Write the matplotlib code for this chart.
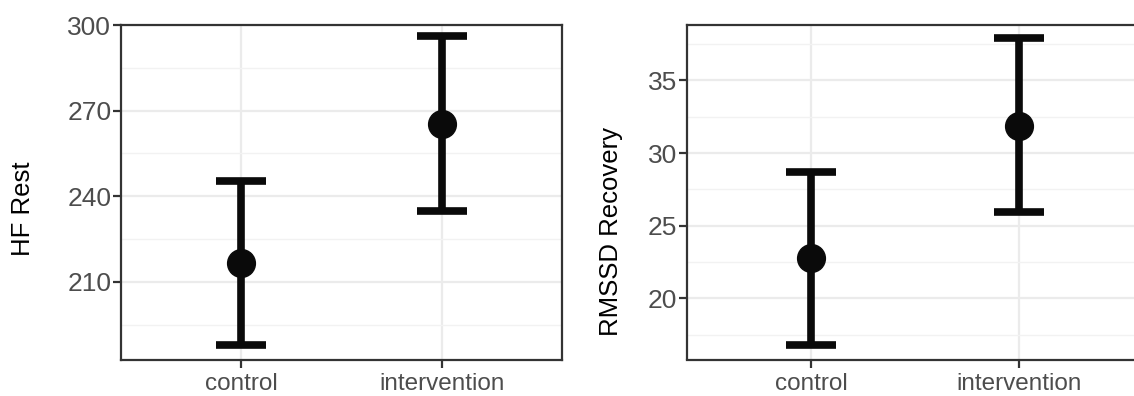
import matplotlib
matplotlib.use("Agg")
import matplotlib.pyplot as plt
from matplotlib.ticker import MultipleLocator

# ---- data ----
groups = ["control", "intervention"]
hf_mean = [216.7, 265.4]
hf_low = [187.8, 234.7]
hf_high = [245.3, 296.1]
rmssd_mean = [22.75, 31.9]
rmssd_low = [16.77, 25.94]
rmssd_high = [28.67, 37.9]
hf_ticks = [210, 240, 270, 300]
rmssd_ticks = [20, 25, 30, 35]

plt.rcParams['font.family'] = ['Liberation Sans', 'DejaVu Sans']

W, H = 1134, 396
fig = plt.figure(figsize=(W / 100, H / 100), dpi=100)
fig.patch.set_facecolor("white")


def px_axes(x0, x1, y0, y1):
    return fig.add_axes([x0 / W, 1 - y1 / H, (x1 - x0) / W, (y1 - y0) / H])


def style(ax, ylabel, ticks, ylim, minor_step, label_xy):
    ax.set_xlim(0.4, 2.6)
    ax.set_ylim(*ylim)
    ax.set_xticks([1, 2])
    ax.set_xticklabels(groups)
    ax.set_yticks(ticks)
    ax.yaxis.set_minor_locator(MultipleLocator(minor_step))
    ax.grid(True, which="major", color="#EBEBEB", linewidth=1.6, zorder=0)
    ax.grid(True, which="minor", axis="y", color="#F2F2F2", linewidth=1.0, zorder=0)
    ax.set_axisbelow(True)
    for s in ax.spines.values():
        s.set_color("#333333")
        s.set_linewidth(1.6)
    ax.tick_params(axis="both", which="major", length=6, width=1.6, color="#333333",
                   labelcolor="#4D4D4D")
    ax.tick_params(axis="y", labelsize=19, pad=1)
    ax.tick_params(axis="x", labelsize=17.5, pad=4)
    ax.tick_params(axis="both", which="minor", length=0)
    ax.set_ylabel(ylabel, fontsize=18.5, color="black")
    ax.yaxis.set_label_coords(*label_xy)


def draw(ax, mean, low, high):
    x = [1, 2]
    yerr = [[m - l for m, l in zip(mean, low)], [h - m for h, m in zip(high, mean)]]
    ax.errorbar(x, mean, yerr=yerr, fmt="o", color="#0A0A0A", markersize=20,
                elinewidth=5.5, capsize=18, capthick=5.5, zorder=3)


ax1 = px_axes(121, 562, 24.5, 359.5)
style(ax1, "HF Rest", hf_ticks, (182.8, 300.2), 15,
      ((35 - 121) / 441, (359.5 - 209) / 335))
draw(ax1, hf_mean, hf_low, hf_high)

ax2 = px_axes(687, 1143, 24.5, 359.5)
style(ax2, "RMSSD Recovery", rmssd_ticks, (15.8, 38.85), 2.5,
      ((623 - 687) / 456, (359.5 - 231) / 335))
draw(ax2, rmssd_mean, rmssd_low, rmssd_high)

fig.savefig("out.png", dpi=100, facecolor="white")
